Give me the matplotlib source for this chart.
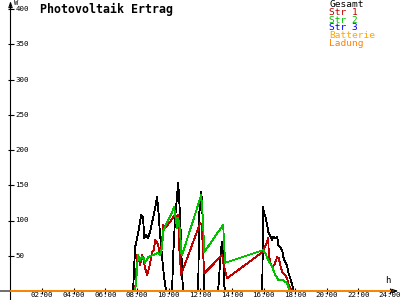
import matplotlib
matplotlib.use("Agg")
import matplotlib.pyplot as plt

# Gesamt (black)
t_total = [7.75, 7.88, 8.07, 8.26, 8.39, 8.45, 8.58, 8.70, 8.83, 8.96, 9.15, 9.27,
           9.34, 9.46, 9.59, 9.72, 9.84, 10.22, 10.28, 10.41, 10.54, 10.60, 10.66,
           10.79, 10.85, 10.92, 11.87, 11.93, 12.06, 12.12, 12.18, 12.22, 12.25,
           13.13, 13.20, 13.32, 13.39, 13.45, 13.51, 13.58, 15.92, 15.98, 16.04,
           16.10, 16.23, 16.30, 16.42, 16.55, 16.61, 16.74, 16.87, 16.93, 17.06,
           17.18, 17.25, 17.37, 17.50, 17.56, 17.69, 17.82, 17.88, 18.00]
w_total = [0, 62, 82, 108, 104, 75, 79, 75, 84, 98, 118, 133,
           118, 79, 47, 18, 0, 0, 47, 104, 136, 153, 136,
           70, 23, 0, 0, 108, 140, 126, 70, 23, 0,
           0, 23, 61, 70, 51, 9, 0, 0, 119, 108,
           108, 94, 84, 79, 72, 77, 75, 77, 65, 62,
           58, 48, 41, 35, 27, 18, 9, 1, 0]

# Str 1 (red)
t_str1 = [7.88, 7.94, 8.01, 8.10, 8.20, 8.32, 8.42, 8.51, 8.64, 8.77, 8.96, 9.05,
          9.15, 9.24, 9.34, 9.46, 9.59, 9.65, 9.78, 10.41, 10.50, 10.60, 10.66,
          10.79, 10.85, 11.99, 12.09, 12.18, 12.25, 13.39, 13.48, 13.70, 15.92,
          16.23, 16.30, 16.33, 16.42, 16.55, 16.68, 16.87, 16.96, 17.06, 17.18,
          17.37, 17.50, 17.56, 17.69, 17.82]
w_str1 = [0, 23, 51, 47, 37, 51, 44, 33, 23, 33, 55, 58,
          72, 70, 65, 51, 70, 94, 89, 108, 104, 108, 65,
          23, 27, 96, 94, 55, 25, 51, 37, 18, 55,
          70, 75, 55, 41, 34, 37, 48, 47, 37, 27,
          23, 18, 11, 4, 0]

# Str 2 (green)
t_str2 = [7.82, 7.94, 8.01, 8.07, 8.16, 8.32, 8.42, 8.51, 8.70, 9.02, 9.34, 9.46,
          9.59, 9.65, 9.91, 10.22, 10.35, 10.41, 10.54, 10.60, 10.73, 10.79, 10.85,
          12.06, 12.12, 12.18, 12.25, 13.45, 13.51, 13.58, 15.98, 16.10, 16.30,
          16.55, 16.74, 16.93, 17.18, 17.37, 17.50, 17.56, 17.69, 17.75]
w_str2 = [0, 8, 37, 51, 44, 48, 47, 40, 48, 51, 54, 51,
          62, 84, 98, 112, 119, 108, 89, 104, 84, 55, 51,
          136, 118, 98, 55, 94, 65, 40, 58, 54, 44,
          34, 23, 16, 16, 13, 11, 6, 1, 0]

# Batterie / Ladung (flat zero over the day)
t_day = [0, 24]
w_batt = [0, 0]
w_lad = [0, 0]

legend_names = ["Gesamt", "Str 1", "Str 2", "Str 3", "Batterie", "Ladung"]
legend_colors = ["#000000", "#c00000", "#00c000", "#0000ff", "#ffa500", "#ff8000"]

x_ticks = list(range(2, 25, 2))
x_labels = ["%02d:00" % h for h in x_ticks]
y_ticks = list(range(50, 401, 50))

mono = "DejaVu Sans Mono"

fig = plt.figure(figsize=(4, 3), dpi=100)
ax = fig.add_axes([10.5 / 400, 9 / 300, 379.5 / 400, 282 / 300])
ax.set_xlim(0, 24)
ax.set_ylim(0, 400)
for s in ax.spines.values():
    s.set_visible(False)

lw = 0.6
ax.plot(t_total, w_total, color=legend_colors[0], lw=lw, antialiased=False)
ax.plot(t_str1, w_str1, color=legend_colors[1], lw=lw, antialiased=False)
ax.plot(t_str2, w_str2, color=legend_colors[2], lw=lw, antialiased=False)
ax.plot(t_day, w_batt, color=legend_colors[4], lw=1.2, clip_on=False)
ax.plot(t_day, w_lad, color=legend_colors[5], lw=1.2, clip_on=False)

# axes with arrows
arrow = dict(arrowstyle="-|>,head_length=0.35,head_width=0.12", lw=0.8,
             color="black", shrinkA=0, shrinkB=0, fill=False)
ax.annotate("", xy=(0, 1.028), xytext=(0, -0.035), xycoords="axes fraction",
            arrowprops=arrow, zorder=1)
ax.annotate("", xy=(1.022, 0), xytext=(-0.03, 0), xycoords="axes fraction",
            arrowprops=arrow, zorder=1)

ax.set_xticks(x_ticks)
ax.set_xticklabels(x_labels, fontfamily=mono, fontsize=5.4)
ax.set_yticks(y_ticks)
ax.set_yticklabels([])
ax.tick_params(axis="both", direction="inout", length=4.5, width=0.8)
ax.tick_params(axis="x", pad=-1.2)
ytr = ax.get_yaxis_transform()
for v in y_ticks:
    ax.text(0.013, v, str(v), transform=ytr, ha="left", va="center",
            fontfamily=mono, fontsize=5.4)

ax.text(0.009, 1.012, "W", transform=ax.transAxes, ha="left", va="bottom",
        fontfamily=mono, fontsize=5.0)
ax.text(0.993, 0.02, "h", transform=ax.transAxes, ha="center", va="bottom",
        fontfamily=mono, fontsize=6.5)

fig.text(40 / 400, 1 - 9 / 300, "Photovoltaik Ertrag", ha="left", va="center",
         fontfamily=mono, fontweight="bold", fontsize=8.4)

for i, (name, col) in enumerate(zip(legend_names, legend_colors)):
    fig.text(329 / 400, 1 - (4.3 + 7.9 * i) / 300, name, color=col,
             ha="left", va="center", fontfamily=mono, fontsize=6.8)

fig.savefig("out.png", dpi=100)
